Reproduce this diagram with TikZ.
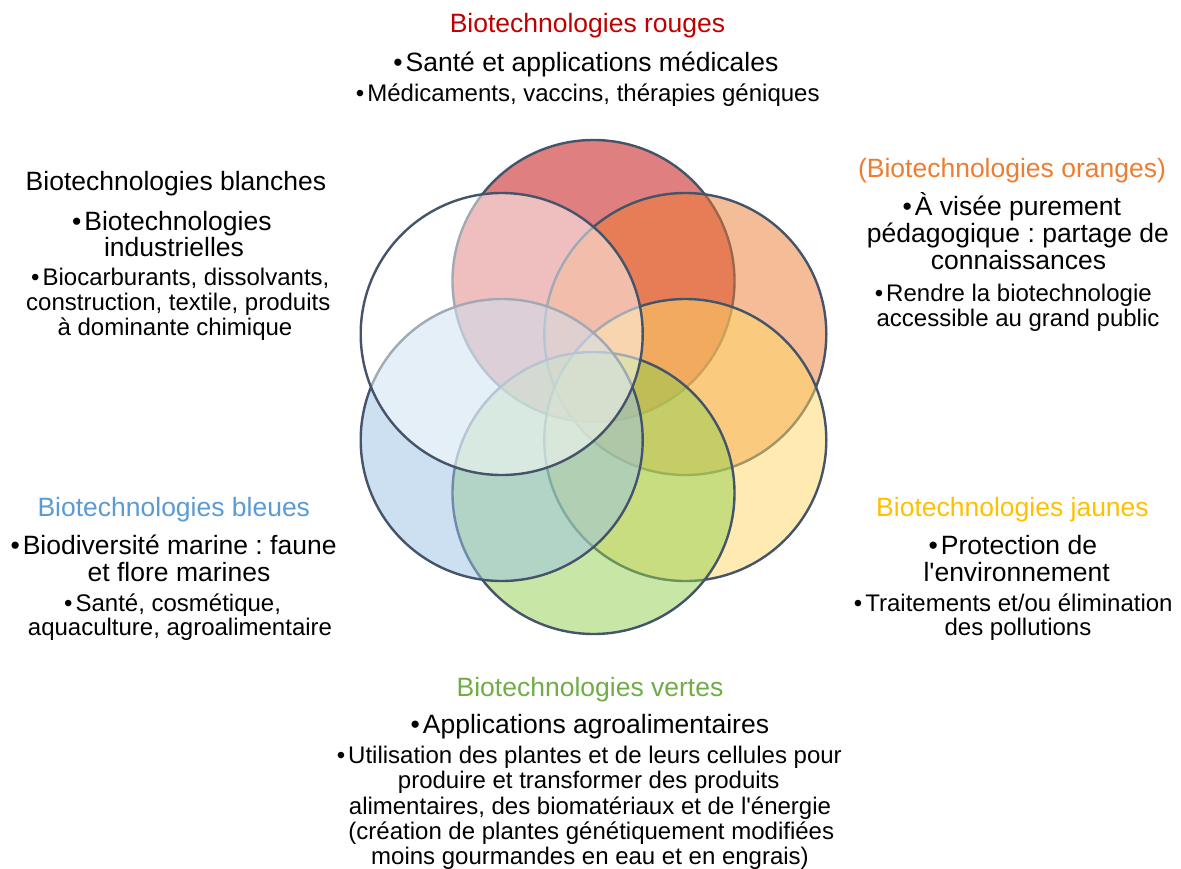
\documentclass[tikz,border=0pt]{standalone}
\usepackage{fontspec}
\setmainfont{Liberation Sans}
\definecolor{outl}{HTML}{44546A}
\definecolor{cred}{HTML}{C00000}
\definecolor{corange}{HTML}{ED7D31}
\definecolor{cyellow}{HTML}{FFD966}
\definecolor{cgreen}{HTML}{92D050}
\definecolor{cblue}{HTML}{9BC2E6}
\definecolor{tred}{HTML}{C00000}
\definecolor{torange}{HTML}{ED7D31}
\definecolor{tyellow}{HTML}{FFC000}
\definecolor{tgreen}{HTML}{70AD47}
\definecolor{tblue}{HTML}{5B9BD5}
\newcommand\bul{\llap{•\hspace{3pt}}}
\frenchspacing
\begin{document}
\begin{tikzpicture}[x=1pt,y=-1pt,
  ring/.style={draw=outl, line width=2.4pt, fill opacity=0.5},
  ttl/.style={anchor=base, inner sep=0pt, font=\fontsize{26.5}{30}\selectfont},
  lone/.style={anchor=base, inner sep=0pt, font=\fontsize{26.5}{30}\selectfont},
  ltwo/.style={anchor=base, inner sep=0pt, font=\fontsize{24}{28}\selectfont}]
\useasboundingbox[fill=white] (0,0) rectangle (1181,868);
% circles
\coordinate (cR) at (593.5,281);
\coordinate (cO) at (685.3,334);
\coordinate (cY) at (685.3,440);
\coordinate (cG) at (593.5,493);
\coordinate (cB) at (501.7,440);
\coordinate (cW) at (501.7,334);
\path[ring, fill=cred] (cR) circle[radius=141pt];
\path[ring, fill=corange] (cO) circle[radius=141pt];
\path[ring, fill=cyellow] (cY) circle[radius=141pt];
\path[ring, fill=cgreen] (cG) circle[radius=141pt];
\path[ring, fill=cblue] (cB) circle[radius=141pt];
\path[ring, fill=white] (cW) circle[radius=141pt];
% rouges
\node[ttl, text=tred] (rt) at (587.5,32.8) {Biotechnologies rouges};
\node[lone] (r1) at (592,71.5) {\bul Santé et applications médicales};
\node[ltwo] (r2) at (593.5,101.5) {\bul Médicaments, vaccins, thérapies géniques};
% blanches
\node[ttl] (bt) at (176,190.5) {Biotechnologies blanches};
\node[lone] (b1) at (178,230) {\bul Biotechnologies};
\node[lone] (b2) at (174,256.5) {industrielles};
\node[ltwo] (b3) at (186,285) {\bul Biocarburants, dissolvants,};
\node[ltwo] (b4) at (178.3,310.5) {construction, textile, produits};
\node[ltwo] (b5) at (175,335.5) {à dominante chimique};
% oranges
\node[ttl, text=torange] (ot) at (1012,177) {(Biotechnologies oranges)};
\node[lone] (o1) at (1018,215.3) {\bul À visée purement};
\node[lone] (o2) at (1018,242) {pédagogique : partage de};
\node[lone] (o3) at (1018.5,269.5) {connaissances};
\node[ltwo] (o4) at (1019,301) {\bul Rendre la biotechnologie};
\node[ltwo] (o5) at (1018,326) {accessible au grand public};
% bleues
\node[ttl, text=tblue] (lt) at (173.8,516) {Biotechnologies bleues};
\node[lone] (l1) at (179.7,554.3) {\bul Biodiversité marine : faune};
\node[lone] (l2) at (179,581.5) {et flore marines};
\node[ltwo] (l3) at (178.3,611) {\bul Santé, cosmétique,};
\node[ltwo] (l4) at (180,635) {aquaculture, agroalimentaire};
% jaunes
\node[ttl, text=tyellow] (jt) at (1012.5,516) {Biotechnologies jaunes};
\node[lone] (j1) at (1019,554.3) {\bul Protection de};
\node[lone] (j2) at (1016.7,581.5) {l\textquotesingle environnement};
\node[ltwo] (j3) at (1019,611) {\bul Traitements et/ou élimination};
\node[ltwo] (j4) at (1018,635) {des pollutions};
% vertes
\node[ttl, text=tgreen] (vt) at (590,696.5) {Biotechnologies vertes};
\node[lone] (v1) at (596,733.5) {\bul Applications agroalimentaires};
\node[ltwo] (v2) at (595,763.2) {\bul Utilisation des plantes et de leurs cellules pour};
\node[ltwo] (v3) at (588.7,788.7) {produire et transformer des produits};
\node[ltwo] (v4) at (590,814) {alimentaires, des biomatériaux et de l\textquotesingle énergie};
\node[ltwo] (v5) at (591.3,839.5) {(création de plantes génétiquement modifiées};
\node[ltwo] (v6) at (590,864.5) {moins gourmandes en eau et en engrais)};
\end{tikzpicture}
\end{document}
